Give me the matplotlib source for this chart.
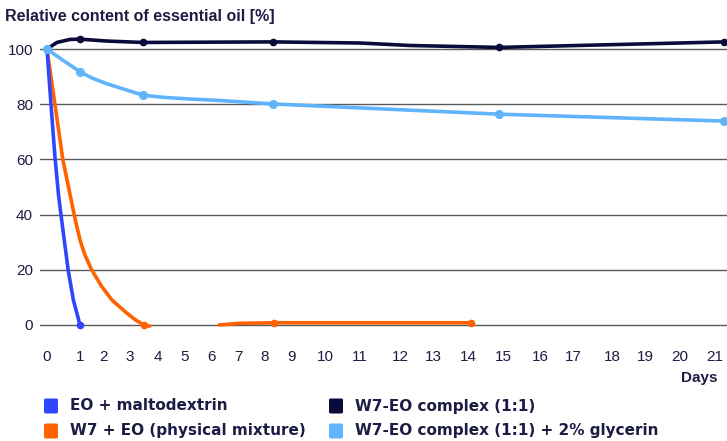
import matplotlib
matplotlib.use("Agg")
import matplotlib.pyplot as plt
from matplotlib.patches import FancyBboxPatch
import numpy as np

plt.rcParams['font.family'] = ['Liberation Sans', 'DejaVu Sans']

# x axis in the original is not evenly spaced: pixel position of each day label
tick_days = list(range(22))
tick_px = [47, 80, 104, 130, 158, 185, 212, 238, 265, 292, 325, 360, 400, 433,
           468, 503, 540, 573, 612, 645, 680, 715]

# values (day, % essential oil)
malto_days = [0, 0.12, 0.24, 0.35, 0.45, 0.64, 0.8, 1.0]
malto_vals = [100, 80, 61, 47, 37.5, 20, 9, 0]

phys_days = [0, 0.24, 0.48, 0.72, 0.85, 1.0, 1.2, 1.49, 1.9, 2.3, 2.85, 3.2, 3.5, 3.7]
phys_vals = [100, 80, 60, 46, 38.5, 30.8, 25.5, 19.9, 14, 9.1, 4.5, 1.8, 0, -0.4]
phys_days2 = [6.27, 7.07, 8.33, 14.08]
phys_vals2 = [0, 0.6, 0.8, 0.8]

cplx_days = [0, 0.3, 0.7, 1.0, 2.12, 3.46, 8.3, 11.0, 12.3, 14.89, 21.26]
cplx_vals = [100, 102.4, 103.5, 103.6, 102.9, 102.4, 102.6, 102.2, 101.3, 100.6, 102.6]

glyc_days = [0, 0.5, 1.0, 1.5, 2.12, 3.46, 4.2, 5.19, 6.4, 8.3, 14.89, 21.26]
glyc_vals = [100, 95.8, 91.8, 89.5, 87.4, 83.3, 82.5, 81.9, 81.3, 80.1, 76.4, 73.9]

# which points carry a marker
malto_mk = [0, 1.0]
phys_mk = [0, 3.5]
phys_mk2 = [8.33, 14.08]
cplx_mk = [0, 1.0, 3.46, 8.3, 14.89, 21.26]
glyc_mk = [0, 1.0, 3.46, 8.3, 14.89, 21.26]

labels = ['EO + maltodextrin', 'W7 + EO (physical mixture)',
          'W7-EO complex (1:1)', 'W7-EO complex (1:1) + 2% glycerin']
colors = ['#2f46ff', '#ff6200', '#0b0b3b', '#60b4fb']
txt = '#1c1c44'

d_ext = np.array([-2] + tick_days + [23])
p_ext = np.array([47 - 66] + tick_px + [715 + 70])


def fwd(x):
    return np.interp(x, d_ext, p_ext)


def inv(p):
    return np.interp(p, p_ext, d_ext)


W, H = 727, 441
fig = plt.figure(figsize=(W / 100, H / 100), dpi=100)
ax = fig.add_axes([40 / W, (H - 336) / H, 687 / W, 309 / H])
ax.set_xscale('function', functions=(fwd, inv))
ax.set_xlim(inv(40), inv(727))
ax.set_ylim(-4, 108)

for v in [0, 20, 40, 60, 80, 100]:
    ax.axhline(v, color='#5a5a5a', lw=1.0, zorder=1)


def series(days, vals, mk, c, ms, z):
    ax.plot(days, vals, color=c, lw=2.6, solid_capstyle='round',
            solid_joinstyle='round', zorder=z)
    mv = [vals[days.index(d)] for d in mk]
    ax.plot(mk, mv, 'o', color=c, ms=ms, zorder=z + 0.5)


series(cplx_days, cplx_vals, cplx_mk, colors[2], 4.5, 3)
series(phys_days, phys_vals, phys_mk, colors[1], 4.5, 4)
series(phys_days2, phys_vals2, phys_mk2, colors[1], 4.5, 4)
series(malto_days, malto_vals, malto_mk, colors[0], 4.5, 5)
series(glyc_days, glyc_vals, glyc_mk, colors[3], 5.5, 6)

for s in ax.spines.values():
    s.set_visible(False)
ax.set_yticks([0, 20, 40, 60, 80, 100])
ax.set_xticks(tick_days)
ax.set_xticklabels([str(d) for d in tick_days])
ax.tick_params(axis='y', length=0, pad=5, labelsize=11, labelcolor=txt)
ax.tick_params(axis='x', length=0, pad=10, labelsize=11, labelcolor=txt)

fig.text(5 / W, 1 - 17 / H, 'Relative content of essential oil [%]',
         fontsize=11.5, fontweight='bold', color=txt, va='center', ha='left')
fig.text(718 / W, 1 - 378 / H, 'Days', fontsize=11, fontweight='bold',
         color=txt, va='center', ha='right')

# legend
leg_pos = [(44, 406), (44, 431), (329, 406), (329, 431)]
for (x, y), lab, c in zip(leg_pos, labels, colors):
    fig.patches.append(FancyBboxPatch((x / W, 1 - (y + 7.5) / H), 14 / W, 15 / H,
                                      boxstyle='round,pad=0,rounding_size=0.003',
                                      transform=fig.transFigure, color=c, lw=0))
    fig.text((x + 26) / W, 1 - y / H, lab, fontsize=11, fontweight='bold',
             family='DejaVu Sans', color=txt, va='center', ha='left')

fig.savefig('out.png', dpi=100)
